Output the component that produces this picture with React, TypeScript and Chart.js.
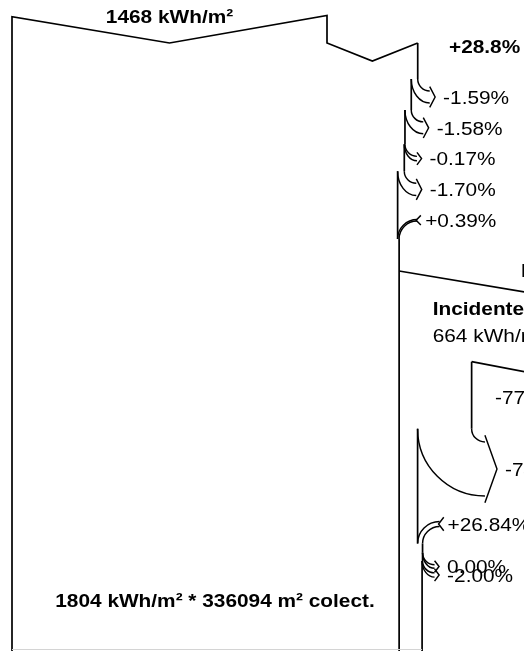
import React, { useEffect, useRef } from "react";
import { Chart, registerables } from "chart.js";

Chart.register(...registerables);

// ---------- data ----------
const GLOBAL_HORIZONTAL = 1468; // kWh/m²
const TRANSPOSITION_GAIN = 28.8; // %
const IRRADIANCE_STEPS = [-1.59, -1.58, -0.17, -1.7, 0.39]; // %
const EFFECTIVE_IRRADIATION = 1804; // kWh/m²
const COLLECTOR_AREA = 336094; // m²
const NEXT_COLUMN_TITLE = "Irradiación efectiva";
const INCIDENT_TITLE = "Incidente";
const INCIDENT_ENERGY = 664; // kWh/m²
const BOX_LOSS = -77.31; // %
const ENERGY_STEPS = [-74.52, 26.84, 0.0, -2.0]; // %

// ---------- layout (pixels of the 524 x 651 picture) ----------
const W = 524;
const H = 651;
const L = {
  left: 12,
  mainWidth: 315, // width of the 1468 kWh/m² flow
  topY: 16,
  vBottom: 43,
  gainBottom: 61,
  firstMid: 97,
  step: 30.8,
  rLoss: 12,
  rGain: 18,
  col2Top: 271,
  col2Slope: 0.168,
  col2Width: 72.5,
  boxTop: 361.7,
  boxSlope: 0.19,
  col2Mids: [469, 524, 566.5, 575],
  col2Radii: [13.3, 17, 12, 12],
  font: 18.6,
  stretch: 1.12,
};

type P = { x: number; y: number };
type Arrow = { kind: "loss" | "gain"; xOld: number; xNew: number; r: number; mid: number };
type Label = { text: string; x: number; y: number; bold?: boolean; align?: CanvasTextAlign };

const fmtPct = (v: number, d = 2) => (v > 0 ? "+" : "") + v.toFixed(d) + "%";

// shape helpers shared by geometry and drawing
const outerRy = (r: number, band: number) => (r + band) * (band < 20 ? 1.3 : 1);
const chevD = (band: number) => 4 + 0.05 * band;
const chevP = (band: number) => 4.5 + 0.14 * band;

function buildGeometry() {
  const k = L.mainWidth / GLOBAL_HORIZONTAL;
  const lines: P[][] = [];
  const arrows: Arrow[] = [];
  const labels: Label[] = [];

  const w0 = GLOBAL_HORIZONTAL * k;
  const w1 = GLOBAL_HORIZONTAL * (1 + TRANSPOSITION_GAIN / 100) * k;
  const xA = L.left + w0;
  const xB = L.left + w1;
  lines.push([
    { x: L.left, y: H + 5 },
    { x: L.left, y: L.topY + 0.7 },
    { x: L.left + w0 / 2, y: L.vBottom },
    { x: xA, y: L.topY - 0.5 },
    { x: xA, y: L.vBottom },
    { x: (xA + xB) / 2, y: L.gainBottom },
    { x: xB, y: L.vBottom },
  ]);
  labels.push({ text: `${GLOBAL_HORIZONTAL} kWh/m²`, x: L.left + w0 / 2, y: 22.5, bold: true, align: "center" });
  labels.push({ text: fmtPct(TRANSPOSITION_GAIN, 1), x: 449, y: 52.5, bold: true });

  const runSteps = (
    steps: number[],
    startWidth: number,
    leftX: number,
    startTop: number,
    mids: number[],
    radii: number[]
  ) => {
    let w = startWidth;
    let edgeTop = startTop;
    steps.forEach((pct, i) => {
      const mid = mids[i];
      const xOld = leftX + w;
      const wNew = w * (1 + pct / 100);
      const xNew = leftX + wNew;
      const r = radii[i];
      if (pct <= 0) {
        const band = xOld - xNew;
        const y0 = mid - (r + outerRy(r, band)) / 2;
        lines.push([{ x: xOld, y: edgeTop }, { x: xOld, y: y0 }]);
        arrows.push({ kind: "loss", xOld, xNew, r, mid });
        const cx = xOld + r;
        labels.push({ text: fmtPct(pct), x: cx + chevP(band) + 8, y: mid + 6.7 });
        edgeTop = y0;
      } else {
        const band = xNew - xOld;
        const y1 = mid + r + band / 2;
        lines.push([{ x: xOld, y: edgeTop }, { x: xOld, y: y1 }]);
        arrows.push({ kind: "gain", xOld, xNew, r, mid });
        labels.push({ text: fmtPct(pct), x: xNew + r + 8, y: mid + 6.7 });
        edgeTop = y1;
      }
      w = wNew;
    });
    return { x: leftX + w, top: edgeTop };
  };

  const mainMids = IRRADIANCE_STEPS.map((_, i) => L.firstMid + i * L.step);
  const mainRadii = IRRADIANCE_STEPS.map((v) => (v <= 0 ? L.rLoss : L.rGain));
  const mainEnd = runSteps(IRRADIANCE_STEPS, w1, L.left, L.vBottom, mainMids, mainRadii);
  lines.push([{ x: mainEnd.x, y: mainEnd.top }, { x: mainEnd.x, y: H + 5 }]);
  labels.push({
    text: `${EFFECTIVE_IRRADIATION} kWh/m² * ${COLLECTOR_AREA} m² colect.`,
    x: 215,
    y: 606.7,
    bold: true,
    align: "center",
  });

  // next column
  const left2 = mainEnd.x;
  lines.push([{ x: left2, y: L.col2Top }, { x: left2 + 200, y: L.col2Top + 200 * L.col2Slope }]);
  labels.push({ text: NEXT_COLUMN_TITLE, x: 520.5, y: 276.7 });
  labels.push({ text: INCIDENT_TITLE + " en plano", x: 432.7, y: 315, bold: true });
  labels.push({ text: `${INCIDENT_ENERGY} kWh/m²`, x: 432.7, y: 342 });
  const xBox = left2 + L.col2Width;
  lines.push([{ x: xBox + 150, y: L.boxTop + 150 * L.boxSlope }, { x: xBox, y: L.boxTop }]);
  labels.push({ text: fmtPct(BOX_LOSS), x: 495, y: 404 });
  const end2 = runSteps(ENERGY_STEPS, L.col2Width, left2, L.boxTop, L.col2Mids, L.col2Radii);
  lines.push([{ x: end2.x, y: end2.top }, { x: end2.x, y: H + 5 }]);

  return { lines, arrows, labels, bottom: { x0: L.left, x1: end2.x } };
}

const GEO = buildGeometry();

const diagramPlugin = {
  id: "lossDiagram",
  afterDatasetsDraw(chart: any) {
    const ctx: CanvasRenderingContext2D = chart.ctx;
    const sx = (v: number) => chart.scales.x.getPixelForValue(v);
    const sy = (v: number) => chart.scales.y.getPixelForValue(v);
    const lx = (v: number) => Math.abs(sx(v) - sx(0));
    const ly = (v: number) => Math.abs(sy(v) - sy(0));
    ctx.save();
    // faint bottom rule
    ctx.strokeStyle = "#d4d4d4";
    ctx.lineWidth = 1;
    ctx.beginPath();
    ctx.moveTo(sx(GEO.bottom.x0), sy(649.5));
    ctx.lineTo(sx(GEO.bottom.x1), sy(649.5));
    ctx.stroke();

    ctx.strokeStyle = "#000";
    ctx.lineWidth = 1.45;
    ctx.lineJoin = "miter";
    for (const a of GEO.arrows) {
      const band = Math.abs(a.xNew - a.xOld);
      const d = chevD(band);
      const p = chevP(band);
      if (a.kind === "loss") {
        const cx = a.xOld + a.r;
        const ro = a.r + band;
        const ryo = outerRy(a.r, band);
        const y0 = a.mid - (a.r + ryo) / 2;
        ctx.beginPath();
        ctx.ellipse(sx(cx), sy(y0), lx(a.r), ly(a.r), 0, Math.PI, Math.PI / 2, true);
        ctx.stroke();
        ctx.beginPath();
        ctx.ellipse(sx(cx), sy(y0), lx(ro), ly(ryo), 0, Math.PI, Math.PI / 2, true);
        ctx.stroke();
        ctx.beginPath();
        ctx.moveTo(sx(cx), sy(y0 + a.r - d));
        ctx.lineTo(sx(cx + p), sy(a.mid));
        ctx.lineTo(sx(cx), sy(y0 + ryo + d));
        ctx.stroke();
      } else {
        const cx = a.xNew + a.r;
        const rl = a.r + band;
        const y1 = a.mid + a.r + band / 2;
        ctx.beginPath();
        ctx.arc(sx(cx), sy(y1), lx(a.r), -Math.PI / 2, Math.PI, true);
        ctx.stroke();
        ctx.beginPath();
        ctx.arc(sx(cx), sy(y1), lx(rl), -Math.PI / 2, Math.PI, true);
        ctx.stroke();
        ctx.beginPath();
        ctx.moveTo(sx(cx + p - 1), sy(y1 - rl - d));
        ctx.lineTo(sx(cx - 1), sy(a.mid));
        ctx.lineTo(sx(cx + p - 1), sy(y1 - a.r + d));
        ctx.stroke();
      }
    }

    ctx.fillStyle = "#000";
    ctx.textBaseline = "alphabetic";
    for (const t of GEO.labels) {
      ctx.save();
      ctx.translate(sx(t.x), sy(t.y));
      ctx.scale(L.stretch, 1);
      ctx.font = `${t.bold ? "bold " : ""}${L.font}px "Liberation Sans", Arial, Helvetica, sans-serif`;
      ctx.textAlign = t.align || "left";
      ctx.fillText(t.text, 0, 0);
      ctx.restore();
    }
    ctx.restore();
  },
};

export default function App() {
  const ref = useRef<HTMLCanvasElement>(null);
  useEffect(() => {
    document.body.style.margin = "0";
    const chart = new Chart(ref.current!, {
      type: "scatter",
      data: {
        datasets: GEO.lines.map((pts) => ({
          data: pts,
          showLine: true,
          borderColor: "#000",
          borderWidth: 1.7,
          pointRadius: 0,
          pointHoverRadius: 0,
          fill: false,
          tension: 0,
          borderJoinStyle: "miter" as const,
        })),
      },
      options: {
        animation: false,
        responsive: false,
        devicePixelRatio: 1,
        events: [],
        layout: { padding: 0 },
        scales: {
          x: { type: "linear", min: 0, max: W, display: false },
          y: { type: "linear", min: 0, max: H, reverse: true, display: false },
        },
        plugins: { legend: { display: false }, tooltip: { enabled: false } },
      },
      plugins: [diagramPlugin],
    });
    return () => chart.destroy();
  }, []);
  return (
    <div style={{ width: W, height: H, background: "#fff", overflow: "hidden" }}>
      <canvas ref={ref} width={W} height={H} style={{ display: "block", width: W, height: H }} />
    </div>
  );
}
